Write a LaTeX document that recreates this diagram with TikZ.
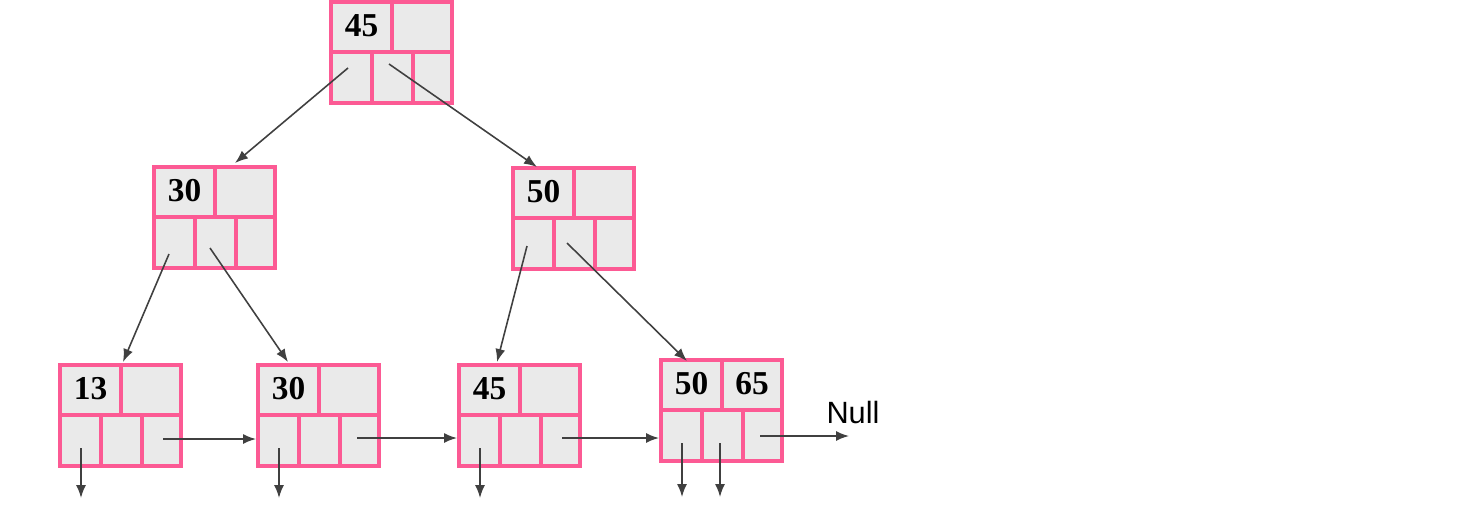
\documentclass[tikz,border=0pt]{standalone}
\usepackage{fontspec}
\setmainfont{Liberation Serif}
\newfontfamily\labelsans{Liberation Sans}
\usetikzlibrary{calc,arrows.meta}
\definecolor{boxpink}{RGB}{252,90,148}
\definecolor{boxgray}{RGB}{234,234,234}
\tikzset{
  keybox/.style={
    draw=boxpink,
    fill=boxgray,
    line width=2pt,
    minimum width=2.42cm,
    minimum height=2.02cm,
    inner sep=0pt,
    outer sep=0pt,
    anchor=north west
  },
  divline/.style={
    draw=boxpink,
    line width=2pt
  },
  keytext/.style={
    inner sep=0pt,
    font=\fontsize{19}{20}\selectfont\bfseries
  },
  ptr/.style={
    -{Latex[length=0.26cm,width=0.2cm]},
    line width=0.9pt,
    draw=black!75
  }
}
% box of a B+ tree node: name, top left corner, first key, second key
\newcommand{\bpnode}[4]{%
  \node[keybox] (#1) at (#2) {};
  \draw[divline] ($(#1.north west)+(0,50)$) -- ($(#1.north east)+(0,50)$);
  \draw[divline] ($(#1.north west)+(61,0)$) -- ++(0,50);
  \foreach \cx in {41,82}{
    \draw[divline] ($(#1.north west)+(\cx,50)$) -- ++(0,51);
  }
  \node[keytext] (#1-k1) at ($(#1.north west)+(30.5,24)$) {#3};
  \node[keytext] (#1-k2) at ($(#1.north west)+(91,24)$) {#4};
}

\begin{document}
\begin{tikzpicture}[x=0.02cm, y=-0.02cm]
  \useasboundingbox (0,0) rectangle (1459,504);
  % nodes
  \bpnode{root}{331,2}{45}{}
  \bpnode{n30}{154,167}{30}{}
  \bpnode{n50}{513,168}{50}{}
  \bpnode{l13}{60,365}{13}{}
  \bpnode{l30}{258,365}{30}{}
  \bpnode{l45}{459,365}{45}{}
  \bpnode{l50}{661,360}{50}{65}
  % tree pointers
  \draw[ptr] ($(root.north west)+(17,66)$) -- ($(n30.north west)+(81,-4)$);
  \draw[ptr] ($(root.north west)+(58,62)$) -- ($(n50.north west)+(24,-1)$);
  \draw[ptr] ($(n30.north west)+(15,87)$) -- ($(l13.north west)+(63,-3)$);
  \draw[ptr] ($(n30.north west)+(56,81)$) -- ($(l30.north west)+(30,-3)$);
  \draw[ptr] ($(n50.north west)+(14,78)$) -- ($(l45.north west)+(38,-3)$);
  \draw[ptr] ($(n50.north west)+(54,75)$) -- ($(l50.north west)+(26,1)$);
  % leaf chain
  \draw[ptr] ($(l13.north west)+(103,74)$) -- ($(l30.north west)+(-2,74)$);
  \draw[ptr] ($(l30.north west)+(99,73)$) -- ($(l45.north west)+(-2,73)$);
  \draw[ptr] ($(l45.north west)+(103,73)$) -- ($(l50.north west)+(-2,78)$);
  \node[inner sep=0pt, font=\fontsize{17.5}{18}\labelsans] (null) at (853,413) {Null};
  \coordinate (nullend) at (849,436);
  \draw[ptr] ($(l50.north west)+(99,76)$) -- (nullend);
  % record pointers
  \foreach \lf in {l13,l30,l45}{
    \draw[ptr] ($(\lf.north west)+(21,83)$) -- ++(0,50);
  }
  \foreach \cx in {21,59}{
    \draw[ptr] ($(l50.north west)+(\cx,83)$) -- ++(0,54);
  }
\end{tikzpicture}
\end{document}
